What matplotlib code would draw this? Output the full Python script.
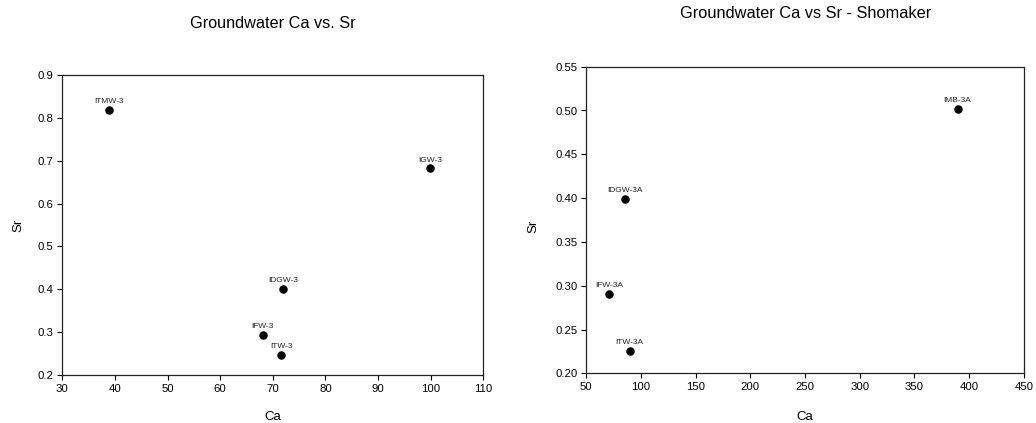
import matplotlib
matplotlib.use("Agg")
import matplotlib.pyplot as plt

plt.rcParams['font.family'] = ['Liberation Sans', 'DejaVu Sans']

# Left chart data
left_labels = ["ITMW-3", "IGW-3", "IDGW-3", "IFW-3", "ITW-3"]
left_ca = [38.8, 99.9, 71.9, 68.1, 71.6]
left_sr = [0.818, 0.682, 0.400, 0.293, 0.247]
left_xticks = [30, 40, 50, 60, 70, 80, 90, 100, 110]
left_yticks = [0.2, 0.3, 0.4, 0.5, 0.6, 0.7, 0.8, 0.9]

# Right chart data
right_labels = ["IMB-3A", "IDGW-3A", "IFW-3A", "ITW-3A"]
right_ca = [389.6, 85.4, 70.7, 89.6]
right_sr = [0.502, 0.399, 0.291, 0.2255]
right_xticks = [50, 100, 150, 200, 250, 300, 350, 400, 450]
right_yticks = [0.20, 0.25, 0.30, 0.35, 0.40, 0.45, 0.50, 0.55]

W, H = 1036, 423
fig = plt.figure(figsize=(W / 100, H / 100), dpi=100)


def px_axes(x0, y0, x1, y1):
    return fig.add_axes([x0 / W, 1 - y1 / H, (x1 - x0) / W, (y1 - y0) / H])


def style(ax, xticks, yticks, yfmt):
    ax.set_xlim(xticks[0], xticks[-1])
    ax.set_ylim(yticks[0], yticks[-1])
    ax.set_xticks(xticks)
    ax.set_yticks(yticks)
    ax.set_yticklabels([yfmt.format(v) for v in yticks])
    ax.set_xticklabels([str(v) for v in xticks])
    ax.tick_params(direction='out', length=3.5, width=0.8, labelsize=8.2, pad=3,
                   colors='black')
    for s in ax.spines.values():
        s.set_linewidth(0.9)
        s.set_color('#222222')


ax1 = px_axes(62.3, 75, 483.3, 375)
ax1.scatter(left_ca, left_sr, s=26, color='black', zorder=3)
for lab, x, y in zip(left_labels, left_ca, left_sr):
    ax1.annotate(lab, (x, y), xytext=(0, 3.5), textcoords='offset points',
                 ha='center', va='bottom', fontsize=6, color='#222222')
style(ax1, left_xticks, left_yticks, "{:.1f}")

ax2 = px_axes(586.3, 66.7, 1023.7, 373.3)
ax2.scatter(right_ca, right_sr, s=26, color='black', zorder=3)
for lab, x, y in zip(right_labels, right_ca, right_sr):
    ax2.annotate(lab, (x, y), xytext=(0, 3.5), textcoords='offset points',
                 ha='center', va='bottom', fontsize=6, color='#222222')
style(ax2, right_xticks, right_yticks, "{:.2f}")

# Titles and axis labels
fig.text(273 / W, 1 - 23 / H, "Groundwater Ca vs. Sr", ha='center', va='center', fontsize=11.7)
fig.text(805.5 / W, 1 - 13.5 / H, "Groundwater Ca vs Sr - Shomaker", ha='center', va='center', fontsize=11.8)
fig.text(272.8 / W, 1 - 417 / H, "Ca", ha='center', va='center', fontsize=9.5)
fig.text(805 / W, 1 - 417 / H, "Ca", ha='center', va='center', fontsize=9.5)
fig.text(18 / W, 1 - 225 / H, "Sr", ha='center', va='center', fontsize=9.5, rotation=90)
fig.text(533 / W, 1 - 226 / H, "Sr", ha='center', va='center', fontsize=9.5, rotation=90)

fig.savefig("out.png", dpi=100)
